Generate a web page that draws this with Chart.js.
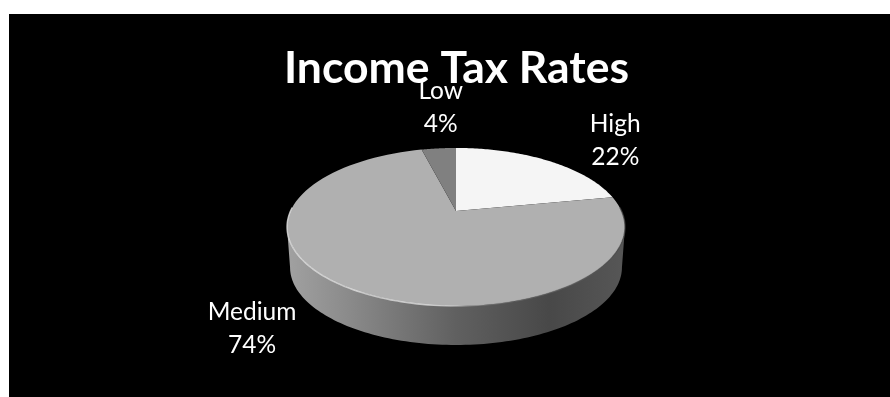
<!DOCTYPE html>
<html>
<head>
<meta charset="utf-8">
<title>Income Tax Rates</title>
<script src="https://cdn.jsdelivr.net/npm/chart.js@4"></script>
<style>
    html, body { margin: 0; padding: 0; background: #fff; overflow: hidden; }
    #wrap { position: absolute; left: 9px; top: 14px; width: 881px; height: 383px; background: #000; }
</style>
</head>
<body>
<div id="wrap"><canvas id="taxChart" width="881" height="383"></canvas></div>
<script>
"use strict";
var categories = ['High', 'Medium', 'Low'];
var shares = [22, 74, 4];
var sliceColors = ['#f5f5f5', '#b0b0b0', '#808080'];

// label position relative to the rim point at the middle of each slice
var labelOffsets = [[68, -20], [-97, 40], [2, -41]];

// tilted disc: u/v are unit circle coords, v grows towards the viewer
var tilt = -0.2025;
var topFace = { cx: 447, cy: 197, a: 165.5, b: 75.8 };
var baseFace = { cx: 447, cy: 237.7, a: 162.5, b: 74.4 };

function project(face, angle, r) {
    var u = Math.cos(angle) * r;
    var v = Math.sin(angle) * r;
    var w = 1 + tilt * v;
    return { x: face.cx + face.a * u / w, y: face.cy + face.b * v / w };
}

function tracePath(ctx, face, from, to, steps) {
    for (var i = 0; i <= steps; i++) {
        var p = project(face, from + (to - from) * i / steps, 1);
        ctx.lineTo(p.x, p.y);
    }
}

var tiltedPie = {
    id: 'tiltedPie',
    beforeDatasetsDraw: function (chart) {
        var ctx = chart.ctx;
        var arcs = chart.getDatasetMeta(0).data;

        // the outline of the disc is widest slightly in front of its centre
        var widest = Math.asin(-tilt);

        // side wall first, the top face covers whatever is behind it
        var wall = ctx.createLinearGradient(281, 0, 613, 0);
        wall.addColorStop(0, '#a0a0a0');
        wall.addColorStop(0.18, '#8a8a8a');
        wall.addColorStop(0.5, '#606060');
        wall.addColorStop(0.78, '#484848');
        wall.addColorStop(1, '#565656');
        ctx.save();
        ctx.fillStyle = wall;
        ctx.beginPath();
        tracePath(ctx, topFace, Math.PI - widest, widest, 120);
        tracePath(ctx, baseFace, widest, Math.PI - widest, 120);
        ctx.closePath();
        ctx.fill();

        arcs.forEach(function (arc, i) {
            var props = arc.getProps(['startAngle', 'endAngle'], true);
            ctx.beginPath();
            var apex = project(topFace, 0, 0);
            ctx.moveTo(apex.x, apex.y);
            tracePath(ctx, topFace, props.startAngle, props.endAngle, 90);
            ctx.closePath();
            ctx.fillStyle = sliceColors[i];
            ctx.fill();
        });

        // light bevel along the front rim
        var rim = ctx.createLinearGradient(278, 0, 616, 0);
        rim.addColorStop(0, 'rgba(235,235,235,0.75)');
        rim.addColorStop(0.45, 'rgba(235,235,235,0.7)');
        rim.addColorStop(0.6, 'rgba(150,150,150,0.3)');
        rim.addColorStop(1, 'rgba(70,70,70,0.7)');
        ctx.beginPath();
        tracePath(ctx, topFace, Math.PI - widest + 0.25, widest - 0.25, 120);
        ctx.strokeStyle = rim;
        ctx.lineWidth = 1.4;
        ctx.stroke();

        // slice captions
        ctx.fillStyle = '#fff';
        ctx.font = '24.5px Lato';
        ctx.textAlign = 'center';
        ctx.textBaseline = 'middle';
        arcs.forEach(function (arc, i) {
            var props = arc.getProps(['startAngle', 'endAngle'], true);
            var p = project(topFace, (props.startAngle + props.endAngle) / 2, 1);
            var x = p.x + labelOffsets[i][0];
            var y = p.y + labelOffsets[i][1];
            ctx.fillText(categories[i], x, y - 16.5);
            ctx.fillText(shares[i] + '%', x, y + 16.5);
        });
        ctx.restore();
        return false;
    }
};

var myChart = new Chart(document.getElementById('taxChart').getContext('2d'), {
    type: 'pie',
    data: {
        labels: categories,
        datasets: [{ data: shares, backgroundColor: sliceColors, borderWidth: 0 }]
    },
    options: {
        responsive: false,
        animation: false,
        layout: { padding: { left: 14 } },
        plugins: {
            legend: { display: false },
            tooltip: { enabled: false },
            title: {
                display: true,
                text: 'Income Tax Rates',
                color: '#fff',
                padding: { top: 28, bottom: 10 },
                font: { family: 'Lato', size: 44.5, weight: 'bold' }
            }
        }
    },
    plugins: [tiltedPie]
});
</script>
</body>
</html>
